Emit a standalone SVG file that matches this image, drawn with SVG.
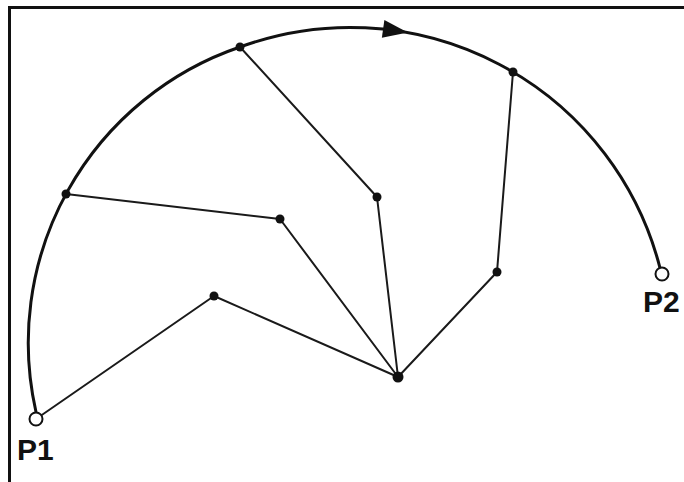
<svg xmlns="http://www.w3.org/2000/svg" width="684" height="482" viewBox="0 0 684 482">
<style>
.frame{stroke:#111;stroke-width:3;fill:none}
.arc{stroke:#111;stroke-width:3;fill:none;stroke-linecap:round}
.edge{stroke:#1a1a1a;stroke-width:2;fill:none;stroke-linecap:round}
.dot{fill:#111}
.open{fill:#fff;stroke:#111;stroke-width:2}
.lbl{font-family:"Liberation Sans",Arial,sans-serif;font-weight:bold;font-size:30px;fill:#111}
</style>
<rect width="684" height="482" fill="#fff"/>
<path class="frame" d="M9.5,482 V7.5 H684"/>
<g id="connectors">
<path class="arc" d="M36,412 A312.6,312.6 0 0 1 240,47 A319.9,319.9 0 0 1 660,268"/>
<polygon class="dot" transform="translate(395,30.6) rotate(8)" points="-12,-9 13,0 -12,9"/>
<line class="edge" x1="240" y1="47" x2="377" y2="197"/>
<line class="edge" x1="377" y1="197" x2="398" y2="377"/>
<line class="edge" x1="66" y1="194" x2="280" y2="219"/>
<line class="edge" x1="280" y1="219" x2="398" y2="377"/>
<line class="edge" x1="36" y1="419" x2="214" y2="296"/>
<line class="edge" x1="214" y1="296" x2="398" y2="377"/>
<line class="edge" x1="513" y1="72" x2="497" y2="272"/>
<line class="edge" x1="497" y1="272" x2="398" y2="377"/>
</g>
<g id="A1"><circle class="dot" cx="240" cy="47" r="4.5"/></g>
<g id="A2"><circle class="dot" cx="66" cy="194" r="4.5"/></g>
<g id="A3"><circle class="dot" cx="513" cy="72" r="4.5"/></g>
<g id="B1"><circle class="dot" cx="377" cy="197" r="4.5"/></g>
<g id="B2"><circle class="dot" cx="280" cy="219" r="4.5"/></g>
<g id="B3"><circle class="dot" cx="214" cy="296" r="4.5"/></g>
<g id="B4"><circle class="dot" cx="497" cy="272" r="4.5"/></g>
<g id="C"><circle class="dot" cx="398" cy="377" r="5.5"/></g>
<g id="P1"><circle class="open" cx="36" cy="419" r="6.5"/><text class="lbl" x="17" y="460">P1</text></g>
<g id="P2"><circle class="open" cx="662" cy="274" r="6.5"/><text class="lbl" x="643" y="312">P2</text></g>
</svg>
